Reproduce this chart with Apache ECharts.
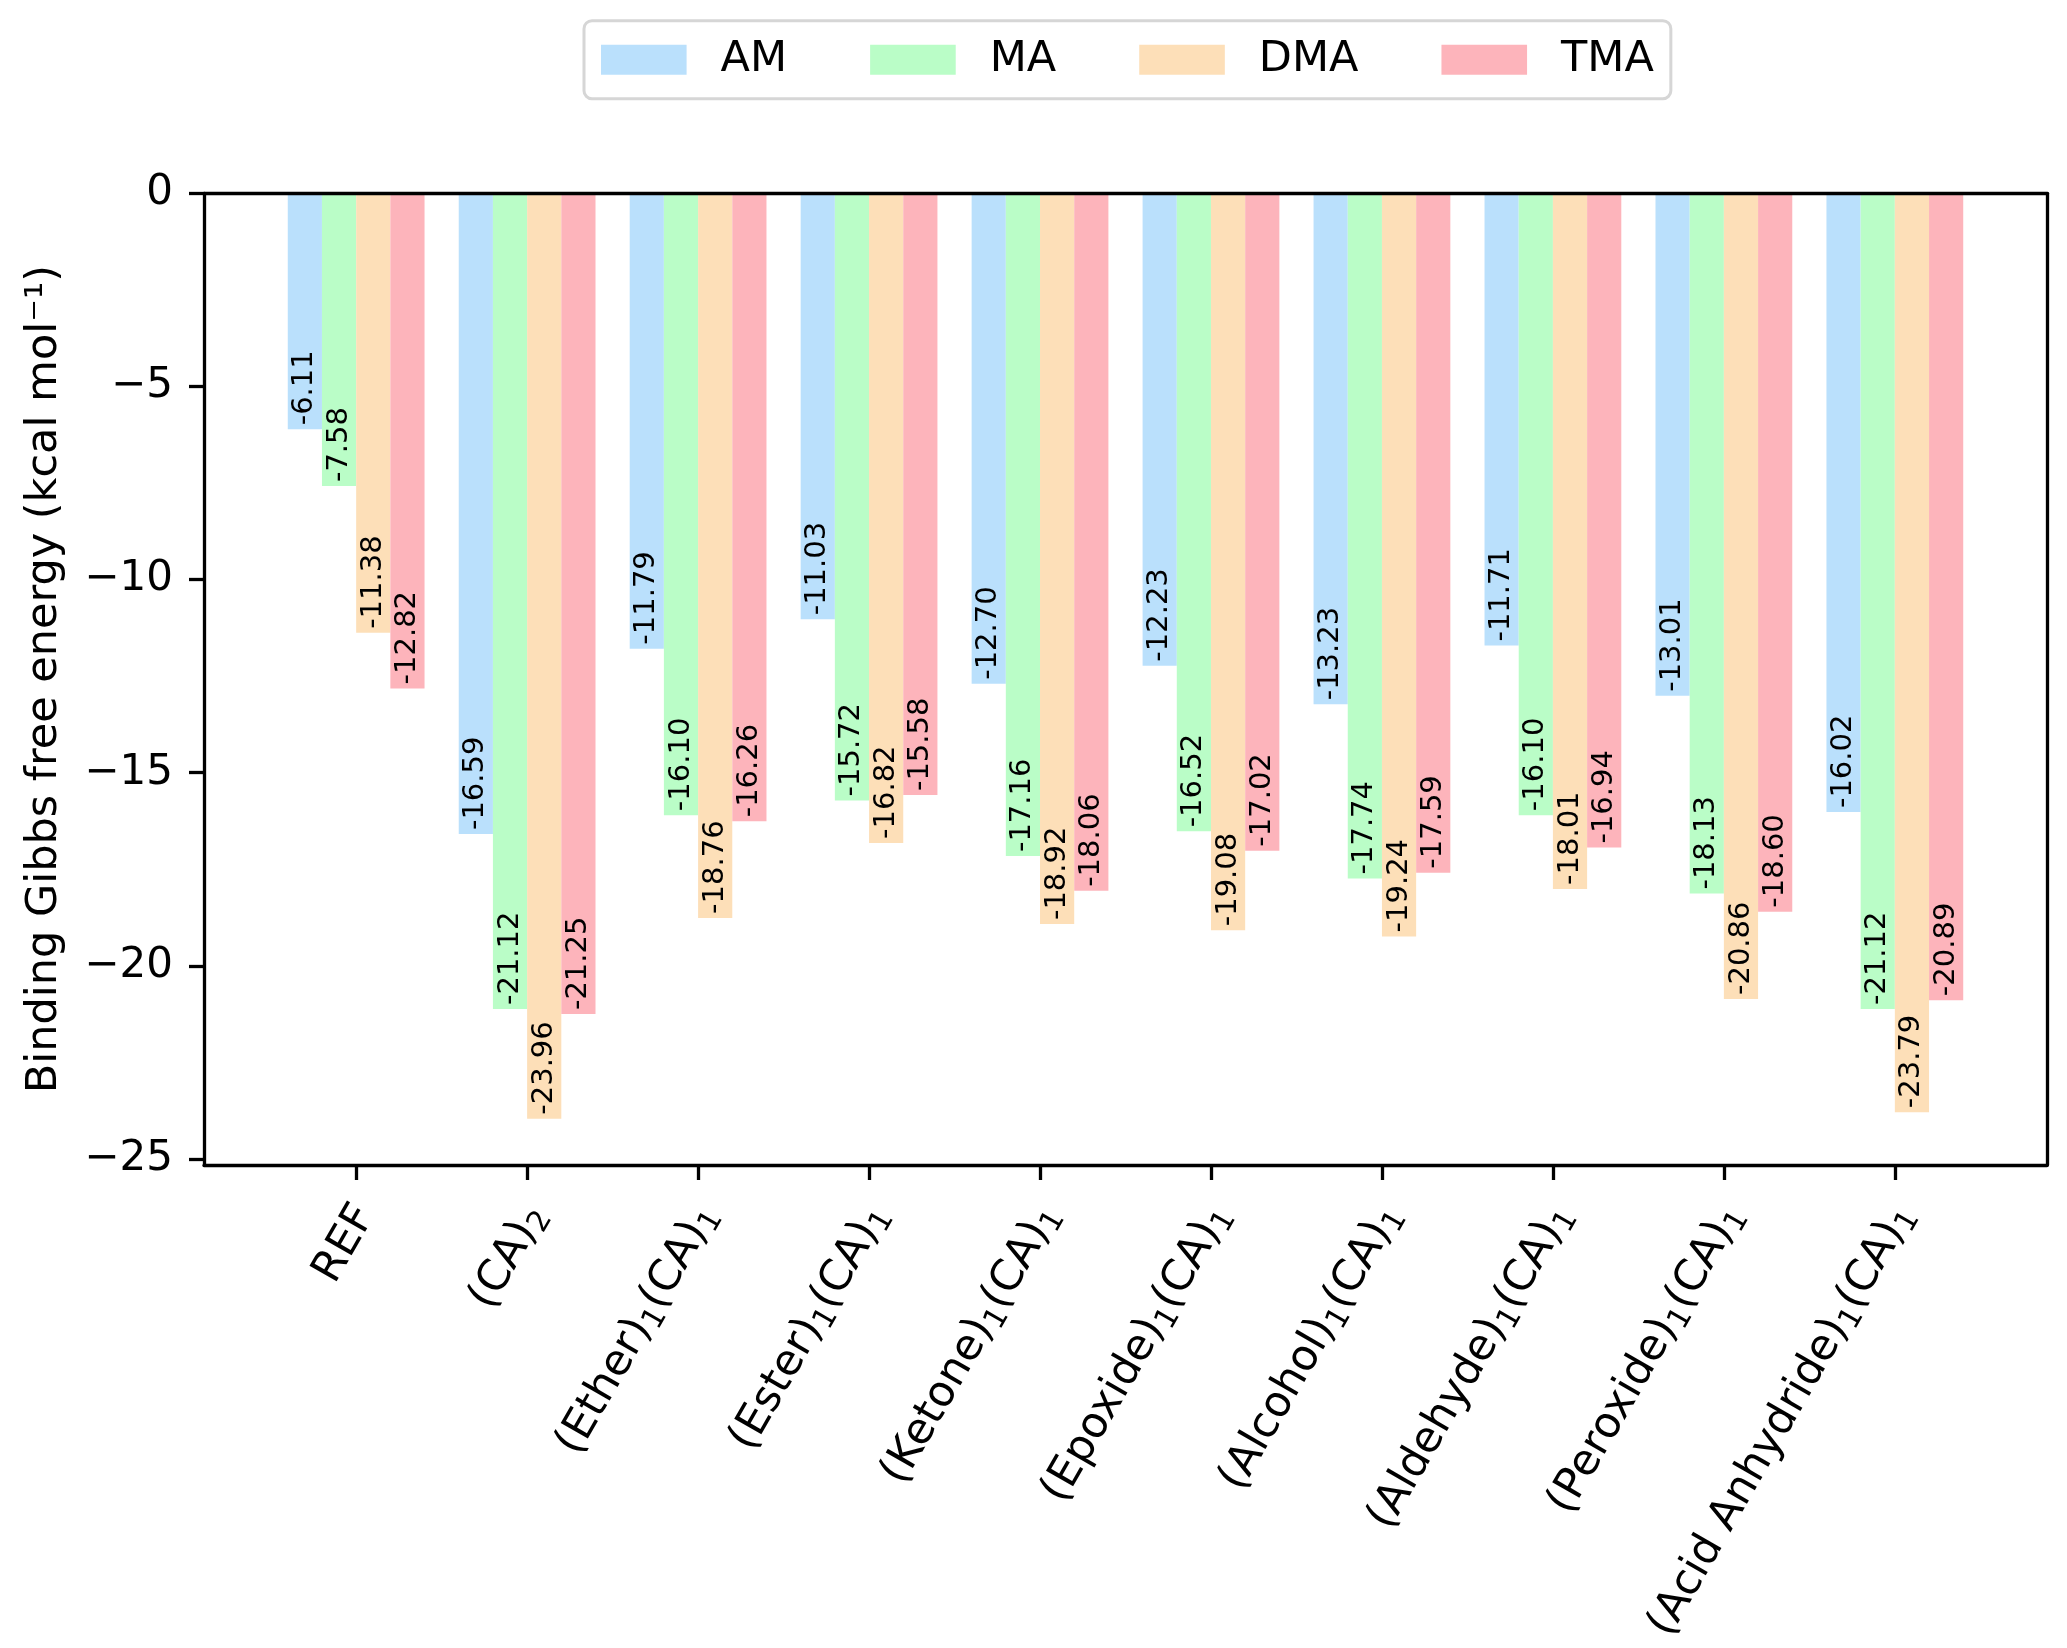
<!DOCTYPE html>
<html>
<head>
<meta charset="utf-8">
<script src="https://cdn.jsdelivr.net/npm/echarts@6/dist/echarts.min.js"></script>
<style>
html,body{margin:0;padding:0;background:#fff;}
#chart{width:2067px;height:1648px;}
</style>
</head>
<body>
<div id="chart"></div>
<script>
// ---- data ----
const categories = ['REF', '(CA)_2', '(Ether)_1(CA)_1', '(Ester)_1(CA)_1', '(Ketone)_1(CA)_1',
  '(Epoxide)_1(CA)_1', '(Alcohol)_1(CA)_1', '(Aldehyde)_1(CA)_1', '(Peroxide)_1(CA)_1',
  '(Acid Anhydride)_1(CA)_1'];
const seriesNames = ['AM', 'MA', 'DMA', 'TMA'];
const AM  = [-6.11, -16.59, -11.79, -11.03, -12.70, -12.23, -13.23, -11.71, -13.01, -16.02];
const MA  = [-7.58, -21.12, -16.10, -15.72, -17.16, -16.52, -17.74, -16.10, -18.13, -21.12];
const DMA = [-11.38, -23.96, -18.76, -16.82, -18.92, -19.08, -19.24, -18.01, -20.86, -23.79];
const TMA = [-12.82, -21.25, -16.26, -15.58, -18.06, -17.02, -17.59, -16.94, -18.60, -20.89];
const yTicks = [0, -5, -10, -15, -20, -25];
const yMin = -25.158, yMax = 0;

const colors = ['#bae0fc', '#bafdc7', '#fddfb8', '#fdb4bb'];
const FONT = 'DejaVu Sans';

function richLabel(s) {
  const parts = s.split(/_(\d)/);
  let out = '';
  parts.forEach((p, i) => {
    if (p === '') return;
    out += (i % 2 === 1) ? '{s|' + p + '}' : '{n|' + p + '}';
  });
  return out;
}
function minus(v) { return String(v).replace('-', '\u2212'); }

const chart = echarts.init(document.getElementById('chart'), null, {renderer: 'canvas'});

const frameGrid = {left: 204, top: 193.3, width: 1843, height: 971.7};
const unit = 1843 / 10.78;
const barsLeft = 204 + 0.89 * unit - unit / 2;
const barsGrid = {left: barsLeft, top: 193.3, width: unit * 10, height: 971.7};
const labelGrid = {left: barsLeft - 12, top: 193.3, width: unit * 10, height: 971.7};

const dataSets = [AM, MA, DMA, TMA];

const option = {
  backgroundColor: '#ffffff',
  animation: false,
  textStyle: {fontFamily: FONT},
  legend: {
    left: 584, top: 20.7,
    orient: 'horizontal',
    data: seriesNames,
    icon: 'rect',
    itemWidth: 85.6, itemHeight: 30,
    itemGap: 83,
    padding: [14, 17, 14, 17],
    borderColor: '#d6d6d6', borderWidth: 3, borderRadius: 8,
    backgroundColor: '#ffffff',
    textStyle: {fontFamily: FONT, fontSize: 43, color: '#000', padding: [0, 0, 0, 29], lineHeight: 50}
  },
  grid: [
    Object.assign({}, frameGrid, {containLabel: false}),
    Object.assign({}, barsGrid, {containLabel: false}),
    Object.assign({}, labelGrid, {containLabel: false})
  ],
  xAxis: [
    {gridIndex: 0, type: 'value', min: 0, max: 1, position: 'bottom', z: 10,
      axisLine: {show: true, onZero: false, lineStyle: {color: '#000', width: 3.3}},
      axisTick: {show: false}, axisLabel: {show: false}, splitLine: {show: false}},
    {gridIndex: 0, type: 'value', min: 0, max: 1, position: 'top', z: 10,
      axisLine: {show: true, onZero: false, lineStyle: {color: '#000', width: 3.3}},
      axisTick: {show: false}, axisLabel: {show: false}, splitLine: {show: false}},
    {gridIndex: 1, type: 'category', data: categories, position: 'bottom', z: 10,
      axisLine: {show: false, onZero: false},
      axisTick: {show: true, alignWithLabel: true, interval: 0, length: 15, lineStyle: {color: '#000', width: 3.3}},
      axisLabel: {show: false},
      splitLine: {show: false}},
    {gridIndex: 2, type: 'category', data: categories, position: 'bottom', z: 10,
      axisLine: {show: false, onZero: false},
      axisTick: {show: false},
      axisLabel: {
        show: true, interval: 0, rotate: 60, margin: 37, align: 'right', verticalAlign: 'top',
        color: '#000', fontFamily: FONT, fontSize: 43,
        formatter: v => richLabel(v),
        rich: {
          n: {fontFamily: FONT, fontSize: 43, lineHeight: 50, color: '#000'},
          s: {fontFamily: FONT, fontSize: 30, lineHeight: 30, verticalAlign: 'bottom', color: '#000'}
        }
      },
      splitLine: {show: false}}
  ],
  yAxis: [
    {gridIndex: 0, type: 'value', min: yMin, max: yMax, position: 'left', z: 10,
      name: 'Binding Gibbs free energy (kcal mol\u207B\u00B9)',
      nameLocation: 'middle', nameGap: 138, nameRotate: 90,
      nameTextStyle: {fontFamily: FONT, fontSize: 43, color: '#000'},
      axisLine: {show: true, onZero: false, lineStyle: {color: '#000', width: 3.3}},
      axisTick: {show: true, length: 15, customValues: yTicks, lineStyle: {color: '#000', width: 3.3}},
      axisLabel: {show: true, margin: 31, customValues: yTicks, color: '#000', fontFamily: FONT, fontSize: 42,
        formatter: v => (Math.abs(v % 5) < 1e-9 ? minus(v) : '')},
      splitLine: {show: false}},
    {gridIndex: 0, type: 'value', min: yMin, max: yMax, position: 'right', z: 10,
      axisLine: {show: true, onZero: false, lineStyle: {color: '#000', width: 3.3}},
      axisTick: {show: false}, axisLabel: {show: false}, splitLine: {show: false}},
    {gridIndex: 1, type: 'value', min: yMin, max: yMax, show: false, splitLine: {show: false}},
    {gridIndex: 2, type: 'value', min: yMin, max: yMax, show: false, splitLine: {show: false}}
  ],
  series: seriesNames.map((name, i) => ({
    name: name,
    type: 'bar',
    xAxisIndex: 2,
    yAxisIndex: 2,
    data: dataSets[i],
    barWidth: '20%',
    barGap: '0%',
    itemStyle: {color: colors[i]},
    label: {
      show: true,
      position: 'insideBottom',
      distance: 4,
      rotate: 90,
      align: 'left',
      verticalAlign: 'middle',
      fontFamily: FONT,
      fontSize: 29,
      color: '#000',
      formatter: p => p.value.toFixed(2)
    }
  }))
};
chart.setOption(option);
</script>
</body>
</html>
